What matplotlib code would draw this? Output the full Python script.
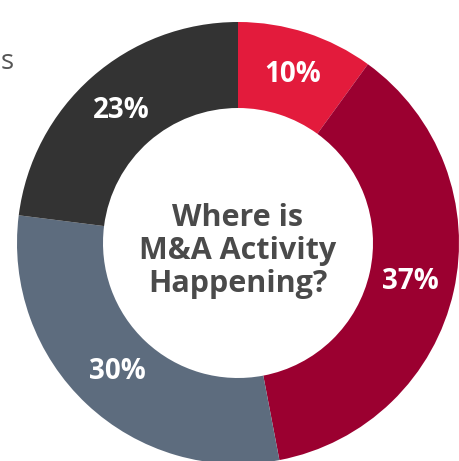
import matplotlib.pyplot as plt

# share of M&A activity by segment, clockwise from the top
segments = ["A", "B", "C", "D"]
shares = [10, 37, 30, 23]
colors = ["#E31B3C", "#9B0030", "#5D6C7E", "#333333"]
center_title = "Where is\nM&A Activity\nHappening?"

W, H = 459, 461


def main():
    fig = plt.figure(figsize=(W / 100, H / 100), dpi=100)
    ax = fig.add_axes([0, 0, 1, 1])

    wedges, texts, autotexts = ax.pie(
        shares,
        colors=colors,
        startangle=90,
        counterclock=False,
        center=(238, H - 243),
        radius=221,
        wedgeprops=dict(width=86, edgecolor="none"),
        autopct="%d%%",
        pctdistance=0.8,
        textprops=dict(color="white", fontsize=20, fontweight="bold",
                       family="Open Sans"),
    )

    ax.text(238, H - 251, center_title, ha="center", va="center",
            fontsize=22, fontweight="bold", color="#4A4A4A",
            family="Open Sans", linespacing=1.15)

    # clipped leftover of a caption at the left edge
    ax.text(14, H - 62, "s", ha="right", va="center", fontsize=20,
            color="#555555", family="Open Sans")

    ax.set_xlim(0, W)
    ax.set_ylim(0, H)
    ax.set_aspect("equal")
    ax.axis("off")

    fig.savefig("out.png", dpi=100)


if __name__ == "__main__":
    main()
